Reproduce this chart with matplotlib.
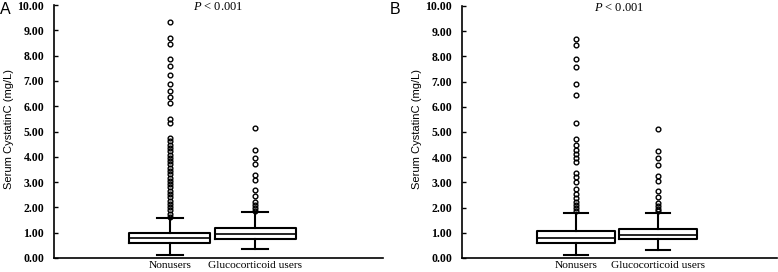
import numpy as np
import matplotlib.pyplot as plt

# Group labels
groups = ["Nonusers", "Glucocorticoid users"]

# Box summary stats (whisker low, Q1, median, Q3, whisker high)
# Panel A
a_non_stats = [0.10, 0.60, 0.79, 1.00, 1.58]
a_glu_stats = [0.34, 0.76, 0.96, 1.20, 1.80]
# Panel B
b_non_stats = [0.10, 0.60, 0.80, 1.07, 1.77]
b_glu_stats = [0.33, 0.77, 0.92, 1.17, 1.78]

# Outliers
a_non_fliers = [1.62, 1.75, 1.88, 2.01, 2.14, 2.27, 2.40, 2.53, 2.66, 2.79, 2.92,
                3.05, 3.18, 3.31, 3.44, 3.57, 3.70, 3.83, 3.96, 4.09, 4.22, 4.35,
                4.48, 4.61, 4.76, 5.35, 5.51, 6.13, 6.36, 6.60, 6.89, 7.23, 7.60,
                7.87, 8.46, 8.70, 9.33]
a_glu_fliers = [1.86, 1.98, 2.10, 2.22, 2.44, 2.67, 3.07, 3.27, 3.70, 3.97, 4.26, 5.14]
b_non_fliers = [1.88, 2.00, 2.12, 2.24, 2.37, 2.55, 2.73, 3.03, 3.20, 3.39, 3.79,
                3.96, 4.13, 4.29, 4.49, 4.71, 5.34, 6.48, 6.89, 7.59, 7.88, 8.44, 8.69]
b_glu_fliers = [1.86, 1.96, 2.07, 2.20, 2.43, 2.65, 3.07, 3.24, 3.69, 3.96, 4.24, 5.12]

p_text = "$\\mathit{P}$ < 0.001"
ylabel = "Serum CystatinC (mg/L)"
yticks = np.arange(0, 11, 1)


def make_stats(stats, fliers, label):
    lo, q1, med, q3, hi = stats
    return dict(whislo=lo, q1=q1, med=med, q3=q3, whishi=hi, fliers=fliers, label=label)


def draw_panel(ax, non_stats, non_fliers, glu_stats, glu_fliers, xlim):
    bxp = [make_stats(non_stats, non_fliers, groups[0]),
           make_stats(glu_stats, glu_fliers, groups[1])]
    ax.bxp(bxp, positions=[1, 2], widths=0.95, capwidths=0.3, showfliers=True,
           boxprops=dict(color="black", linewidth=1.5),
           medianprops=dict(color="black", linewidth=1.2),
           whiskerprops=dict(color="black", linewidth=1.5),
           capprops=dict(color="black", linewidth=1.5),
           flierprops=dict(marker="o", markersize=3.4, markerfacecolor="none",
                           markeredgecolor="black", markeredgewidth=1.0))
    ax.set_xlim(*xlim)
    ax.set_ylim(0, 10)
    ax.set_yticks(yticks)
    ax.set_yticklabels([f"{v:.2f}" for v in yticks], fontfamily="Liberation Serif",
                       fontweight="bold", fontsize=8.5)
    ax.set_xticks([1, 2])
    ax.set_xticklabels(groups, fontfamily="Liberation Serif", fontsize=8.2)
    ax.tick_params(axis="y", direction="in", length=3, width=1, pad=7)
    ax.tick_params(axis="x", length=0, pad=2)
    for s in ["top", "right"]:
        ax.spines[s].set_visible(False)
    for s in ["left", "bottom"]:
        ax.spines[s].set_linewidth(1.2)
    ax.set_ylabel(ylabel, fontfamily="Liberation Sans", fontsize=8)
    ax.text(0.5, 1 - 2 / 253, p_text, transform=ax.transAxes, ha="center", va="center",
            fontfamily="Liberation Serif", fontsize=9)


plt.rcParams["mathtext.fontset"] = "custom"
plt.rcParams["mathtext.it"] = "Liberation Serif:italic"

fig = plt.figure(figsize=(7.78, 2.72), dpi=100)
ax1 = fig.add_axes([54 / 778, 1 - 258 / 272, 329 / 778, 253 / 272])
ax2 = fig.add_axes([462 / 778, 1 - 258 / 272, 315 / 778, 252 / 272])

draw_panel(ax1, a_non_stats, a_non_fliers, a_glu_stats, a_glu_fliers, (-0.36, 3.5))
draw_panel(ax2, b_non_stats, b_non_fliers, b_glu_stats, b_glu_fliers, (-0.39, 3.45))

ax1.yaxis.set_label_coords(-40 / 329, 0.51)
ax2.yaxis.set_label_coords(-40 / 315, 0.51)

# Panel letters
fig.text(0 / 778, 1 - 2 / 272, "A", ha="left", va="top",
         fontfamily="Liberation Sans", fontsize=11.5)
fig.text(390 / 778, 1 - 2 / 272, "B", ha="left", va="top",
         fontfamily="Liberation Sans", fontsize=11.5)

fig.savefig("out.png", dpi=100)
